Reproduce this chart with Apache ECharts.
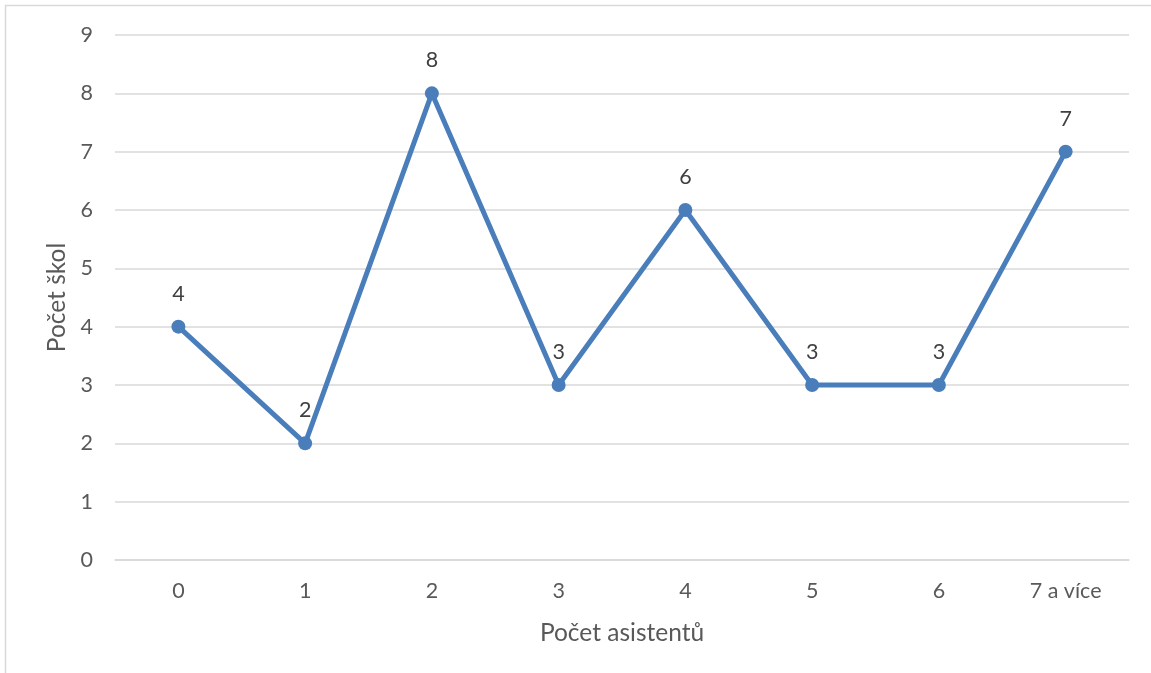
<!DOCTYPE html>
<html>
<head>
<meta charset="utf-8">
<style>
  html, body { margin: 0; padding: 0; background: #ffffff; }
  #chart { width: 1151px; height: 673px; }
</style>
<script src="https://cdn.jsdelivr.net/npm/echarts@6/dist/echarts.min.js"></script>
</head>
<body>
<div id="chart"></div>
<script>
// Počet asistentů na školu
const categories = ['0', '1', '2', '3', '4', '5', '6', '7 a více'];
const schoolCounts = [4, 2, 8, 3, 6, 3, 3, 7];
const yTicks = [0, 1, 2, 3, 4, 5, 6, 7, 8, 9];

const textColor = '#595959';
const gridColor = '#d9d9d9';
const lineColor = '#4a7ebb';
const fontFamily = 'Lato, "Open Sans", sans-serif';

const chart = echarts.init(document.getElementById('chart'), null, { renderer: 'canvas' });

chart.setOption({
  animation: false,
  backgroundColor: '#ffffff',
  graphic: [{
    type: 'rect',
    shape: { x: 5.5, y: 5.5, width: 1170, height: 690 },
    style: { fill: 'none', stroke: '#d9d9d9', lineWidth: 1.5 },
    silent: true
  }],
  grid: { left: 115, right: 22, top: 35, bottom: 113 },
  xAxis: {
    type: 'category',
    data: categories,
    boundaryGap: true,
    name: 'Počet asistentů',
    nameLocation: 'middle',
    nameGap: 61,
    nameTextStyle: { color: textColor, fontSize: 24.5, fontFamily },
    axisLine: { show: true, lineStyle: { color: gridColor, width: 1.5 } },
    axisTick: { show: false },
    axisLabel: { color: textColor, fontSize: 21.5, fontFamily, margin: 20 }
  },
  yAxis: {
    type: 'value',
    min: yTicks[0],
    max: yTicks[yTicks.length - 1],
    interval: 1,
    name: 'Počet škol',
    nameLocation: 'middle',
    nameGap: 44,
    nameRotate: 90,
    nameTextStyle: { color: textColor, fontSize: 24.5, fontFamily },
    axisLine: { show: false },
    axisTick: { show: false },
    axisLabel: { color: textColor, fontSize: 21.5, fontFamily, margin: 22 },
    splitLine: { lineStyle: { color: gridColor, width: 1.5 } }
  },
  series: [{
    type: 'line',
    data: schoolCounts,
    symbol: 'circle',
    symbolSize: 14,
    lineStyle: { color: lineColor, width: 5 },
    itemStyle: { color: lineColor },
    label: {
      show: true,
      position: 'top',
      distance: 15,
      color: '#404040',
      fontSize: 21.5,
      fontFamily
    }
  }]
});
</script>
</body>
</html>
